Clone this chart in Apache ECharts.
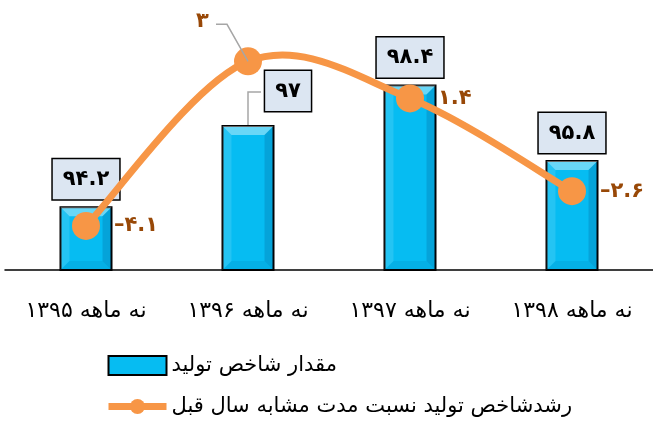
<!DOCTYPE html>
<html>
<head>
<meta charset="utf-8">
<script src="https://cdn.jsdelivr.net/npm/echarts@6/dist/echarts.min.js"></script>
<style>html,body{margin:0;padding:0;background:#fff}#c{width:653px;height:423px}</style>
</head>
<body>
<div id="c"></div>
<script>
const categories = ['نه ماهه ۱۳۹۵', 'نه ماهه ۱۳۹۶', 'نه ماهه ۱۳۹۷', 'نه ماهه ۱۳۹۸'];
const indexValues = [94.2, 97, 98.4, 95.8];
const growthValues = [-4.1, 3, 1.4, -2.6];
const seriesNames = ['مقدار شاخص تولید', 'رشدشاخص تولید نسبت مدت مشابه سال قبل'];

const FONT = 'DejaVu Sans';
const Y_MIN = 92, Y_MAX = 100.8;
const BAR_W = 53;
const MOVED = 1; // index of the labels moved aside with a guide line
const ORANGE = '#f79646';

function fa(v) {
  const d = '۰۱۲۳۴۵۶۷۸۹';
  let s = String(Math.abs(v)).replace(/[0-9]/g, c => d[+c]);
  return (v < 0 ? '–' : '') + s;
}
const guideStyle = {stroke: '#a6a6a6', lineWidth: 1.5, fill: null};

const chart = echarts.init(document.getElementById('c'), null, {renderer: 'canvas'});
chart.setOption({
  animation: false,
  grid: {left: 5, top: 15, height: 255, width: 658},
  legend: {
    orient: 'vertical', left: 100, top: 350, itemGap: 20,
    itemWidth: 58, itemHeight: 19,
    textStyle: {fontFamily: FONT, fontSize: 21, color: '#000'},
    data: [
      {name: seriesNames[0], icon: 'rect'},
      {name: seriesNames[1], lineStyle: {width: 7, color: ORANGE, opacity: 1}}
    ]
  },
  xAxis: {
    type: 'category', data: categories,
    axisLine: {onZero: false, lineStyle: {color: '#000', width: 1.5}},
    axisTick: {show: false},
    axisLabel: {fontFamily: FONT, fontSize: 22, color: '#000', margin: 30}
  },
  yAxis: [
    {type: 'value', min: Y_MIN, max: Y_MAX, show: false, splitLine: {show: false}},
    {type: 'value', min: -6, max: 5, show: false, splitLine: {show: false}}
  ],
  series: [
    {
      name: seriesNames[0], type: 'bar', barWidth: BAR_W, z: 2,
      data: indexValues,
      itemStyle: {color: '#06bcf2', borderColor: '#000', borderWidth: 2},
      label: {
        show: true, position: 'top', distance: 7,
        formatter: p => fa(p.value),
        backgroundColor: '#dce6f2', borderColor: '#000', borderWidth: 1.5,
        padding: [10, 10, 9, 10],
        fontFamily: FONT, fontSize: 21, fontWeight: 'bold', color: '#000'
      },
      labelLayout: p => p.dataIndex === MOVED ? {dx: 40, dy: -7} : {}
    },
    {
      type: 'custom', data: indexValues.map((v, i) => [i, v]), z: 3, silent: true,
      renderItem: (params, api) => {
        const i = api.value(0);
        const t = api.coord([i, api.value(1)]);
        const b = api.coord([i, Y_MIN]);
        const x0 = t[0] - BAR_W / 2 + 1, x1 = t[0] + BAR_W / 2 - 1;
        const y0 = t[1] + 1, y1 = b[1];
        const k = 9;
        const children = [
          {type: 'polygon', shape: {points: [[x0, y0], [x1, y0], [x1 - k, y0 + k], [x0 + k, y0 + k]]}, style: {fill: 'rgba(255,255,255,0.4)'}},
          {type: 'polygon', shape: {points: [[x0, y0], [x0 + k, y0 + k], [x0 + k, y1 - k], [x0, y1]]}, style: {fill: 'rgba(255,255,255,0.12)'}},
          {type: 'polygon', shape: {points: [[x1, y0], [x1 - k, y0 + k], [x1 - k, y1 - k], [x1, y1]]}, style: {fill: 'rgba(0,40,90,0.16)'}},
          {type: 'polygon', shape: {points: [[x0, y1], [x0 + k, y1 - k], [x1 - k, y1 - k], [x1, y1]]}, style: {fill: 'rgba(0,40,90,0.08)'}}
        ];
        if (i === MOVED) {
          children.push({type: 'polyline', shape: {points: [[t[0], t[1]], [t[0], t[1] - 33], [t[0] + 13, t[1] - 33]]}, style: guideStyle});
        }
        return {type: 'group', children};
      }
    },
    {
      // smoothed growth curve (Catmull-Rom style, tension 1/6), built from the line's data through the axes
      type: 'custom', yAxisIndex: 1, z: 4, silent: true,
      data: [[0, growthValues[0]]],
      renderItem: (params, api) => {
        const P = growthValues.map((v, i) => api.coord([i, v]));
        const n = P.length;
        let d = 'M' + P[0][0] + ' ' + P[0][1];
        for (let i = 0; i < n - 1; i++) {
          const p0 = P[Math.max(i - 1, 0)], p1 = P[i], p2 = P[i + 1], p3 = P[Math.min(i + 2, n - 1)];
          const c1 = [p1[0] + (p2[0] - p0[0]) / 6, p1[1] + (p2[1] - p0[1]) / 6];
          const c2 = [p2[0] - (p3[0] - p1[0]) / 6, p2[1] - (p3[1] - p1[1]) / 6];
          d += ' C' + c1.join(' ') + ' ' + c2.join(' ') + ' ' + p2.join(' ');
        }
        return {type: 'path', shape: {pathData: d}, style: {stroke: ORANGE, lineWidth: 7, fill: null}};
      }
    },
    {
      type: 'custom', yAxisIndex: 1, z: 6, silent: true,
      data: [[MOVED, growthValues[MOVED]]],
      renderItem: (params, api) => {
        const c = api.coord([api.value(0), api.value(1)]);
        return {type: 'polyline', shape: {points: [[c[0], c[1]], [c[0] - 21, c[1] - 37], [c[0] - 32, c[1] - 37]]}, style: guideStyle};
      }
    },
    {
      name: seriesNames[1], type: 'line', yAxisIndex: 1, z: 5,
      data: growthValues,
      symbol: 'circle', symbolSize: 28,
      lineStyle: {color: ORANGE, width: 7, opacity: 0},
      itemStyle: {color: ORANGE},
      label: {
        show: true, position: 'right', distance: 14,
        formatter: p => fa(p.value),
        fontFamily: FONT, fontSize: 21, fontWeight: 'bold', color: '#984807'
      },
      labelLayout: p => p.dataIndex === MOVED ? {dx: -80, dy: -40} : {}
    }
  ]
});
</script>
</body>
</html>
